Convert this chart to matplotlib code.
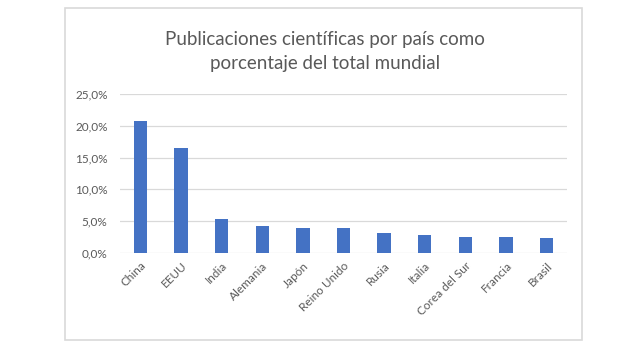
import matplotlib
matplotlib.use('Agg')
import matplotlib.pyplot as plt
from matplotlib.patches import Rectangle
from matplotlib.ticker import FuncFormatter

plt.rcParams['font.family'] = ['Lato', 'DejaVu Sans']

paises = ['China', 'EEUU', 'India', 'Alemania', 'Japón', 'Reino Unido',
          'Rusia', 'Italia', 'Corea del Sur', 'Francia', 'Brasil']
porcentajes = [20.7, 16.5, 5.4, 4.2, 3.9, 3.9, 3.1, 2.8, 2.5, 2.5, 2.3]
yticks = [0, 5, 10, 15, 20, 25]

gris = '#595959'
fig = plt.figure(figsize=(6.37, 3.51), dpi=100)

# marco del gráfico
fig.patches.append(Rectangle((65 / 637, 1 - 340 / 351), (582 - 65) / 637, (340 - 8) / 351,
                             transform=fig.transFigure, fill=False,
                             edgecolor='#d9d9d9', linewidth=1.2))

ax = fig.add_axes([120 / 637, 1 - 253 / 351, (567 - 120) / 637, (253 - 94) / 351])
x = range(len(paises))
ax.bar(x, porcentajes, width=0.33, color='#4472C4', zorder=3)
ax.set_xlim(-0.5, len(paises) - 0.5)
ax.set_ylim(0, 25)
ax.set_yticks(yticks)
ax.yaxis.set_major_formatter(FuncFormatter(lambda v, p: f'{v:.1f}%'.replace('.', ',')))
ax.grid(axis='y', color='#d9d9d9', linewidth=0.9, zorder=0)
for s in ax.spines.values():
    s.set_visible(False)
ax.tick_params(length=0, colors=gris, labelsize=8.5)
ax.tick_params(axis='y', pad=9)
ax.tick_params(axis='x', pad=5)
ax.set_xticks(list(x))
ax.set_xticklabels(paises, rotation=45, ha='right', rotation_mode='anchor')

fig.text(325 / 637, 1 - 51 / 351, 'Publicaciones científicas por país como\nporcentaje del total mundial',
         ha='center', va='center', fontsize=13.5, color=gris, linespacing=1.5)

fig.savefig('out.png', dpi=100)
